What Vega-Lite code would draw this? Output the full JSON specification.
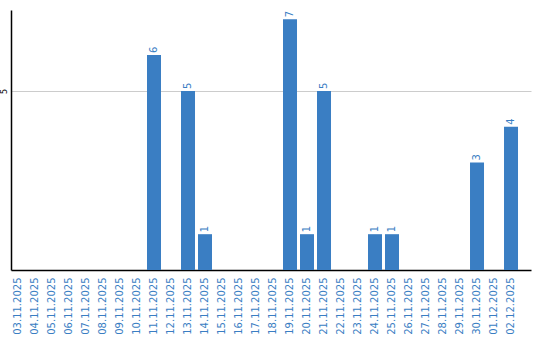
{
  "$schema": "https://vega.github.io/schema/vega-lite/v6.json",
  "width": 520,
  "height": 260,
  "autosize": "none",
  "padding": {"left": 11, "top": 10, "right": 9, "bottom": 70},
  "background": "white",
  "config": {"view": {"stroke": null}},
  "data": {"values": [
    {"date": "03.11.2025", "count": 0},
    {"date": "04.11.2025", "count": 0},
    {"date": "05.11.2025", "count": 0},
    {"date": "06.11.2025", "count": 0},
    {"date": "07.11.2025", "count": 0},
    {"date": "08.11.2025", "count": 0},
    {"date": "09.11.2025", "count": 0},
    {"date": "10.11.2025", "count": 0},
    {"date": "11.11.2025", "count": 6},
    {"date": "12.11.2025", "count": 0},
    {"date": "13.11.2025", "count": 5},
    {"date": "14.11.2025", "count": 1},
    {"date": "15.11.2025", "count": 0},
    {"date": "16.11.2025", "count": 0},
    {"date": "17.11.2025", "count": 0},
    {"date": "18.11.2025", "count": 0},
    {"date": "19.11.2025", "count": 7},
    {"date": "20.11.2025", "count": 1},
    {"date": "21.11.2025", "count": 5},
    {"date": "22.11.2025", "count": 0},
    {"date": "23.11.2025", "count": 0},
    {"date": "24.11.2025", "count": 1},
    {"date": "25.11.2025", "count": 1},
    {"date": "26.11.2025", "count": 0},
    {"date": "27.11.2025", "count": 0},
    {"date": "28.11.2025", "count": 0},
    {"date": "29.11.2025", "count": 0},
    {"date": "30.11.2025", "count": 3},
    {"date": "01.12.2025", "count": 0},
    {"date": "02.12.2025", "count": 4}
  ]},
  "encoding": {
    "x": {
      "field": "date", "type": "ordinal", "sort": null,
      "scale": {"paddingInner": 0.1765, "paddingOuter": 0.382, "align": 0},
      "axis": {
        "title": null, "labelAngle": -90, "labelColor": "#3a7ec3",
        "labelFont": "DejaVu Sans", "labelFontSize": 10, "ticks": false,
        "labelPadding": 7, "domainColor": "#000000", "domainWidth": 1.5,
        "labelAlign": "right", "labelBaseline": "middle"
      }
    },
    "y": {
      "field": "count", "type": "quantitative",
      "scale": {"domain": [0, 7.26], "nice": false},
      "axis": {
        "title": null, "values": [5], "ticks": false, "grid": true,
        "gridColor": "#cccccc", "domainColor": "#000000", "domainWidth": 1.5,
        "labelAngle": -90, "labelFont": "DejaVu Sans", "labelFontSize": 8,
        "labelColor": "#000000", "labelPadding": 3, "labelAlign": "center", "labelBaseline": "bottom"
      }
    }
  },
  "layer": [
    {"mark": {"type": "bar", "color": "#3a7ec3"}},
    {
      "transform": [{"filter": "datum.count > 0"}],
      "mark": {"type": "text", "angle": -90, "align": "left", "baseline": "middle",
               "dx": 2, "color": "#3a7ec3", "font": "DejaVu Sans", "fontSize": 10},
      "encoding": {"text": {"field": "count", "type": "quantitative"}}
    }
  ]
}
